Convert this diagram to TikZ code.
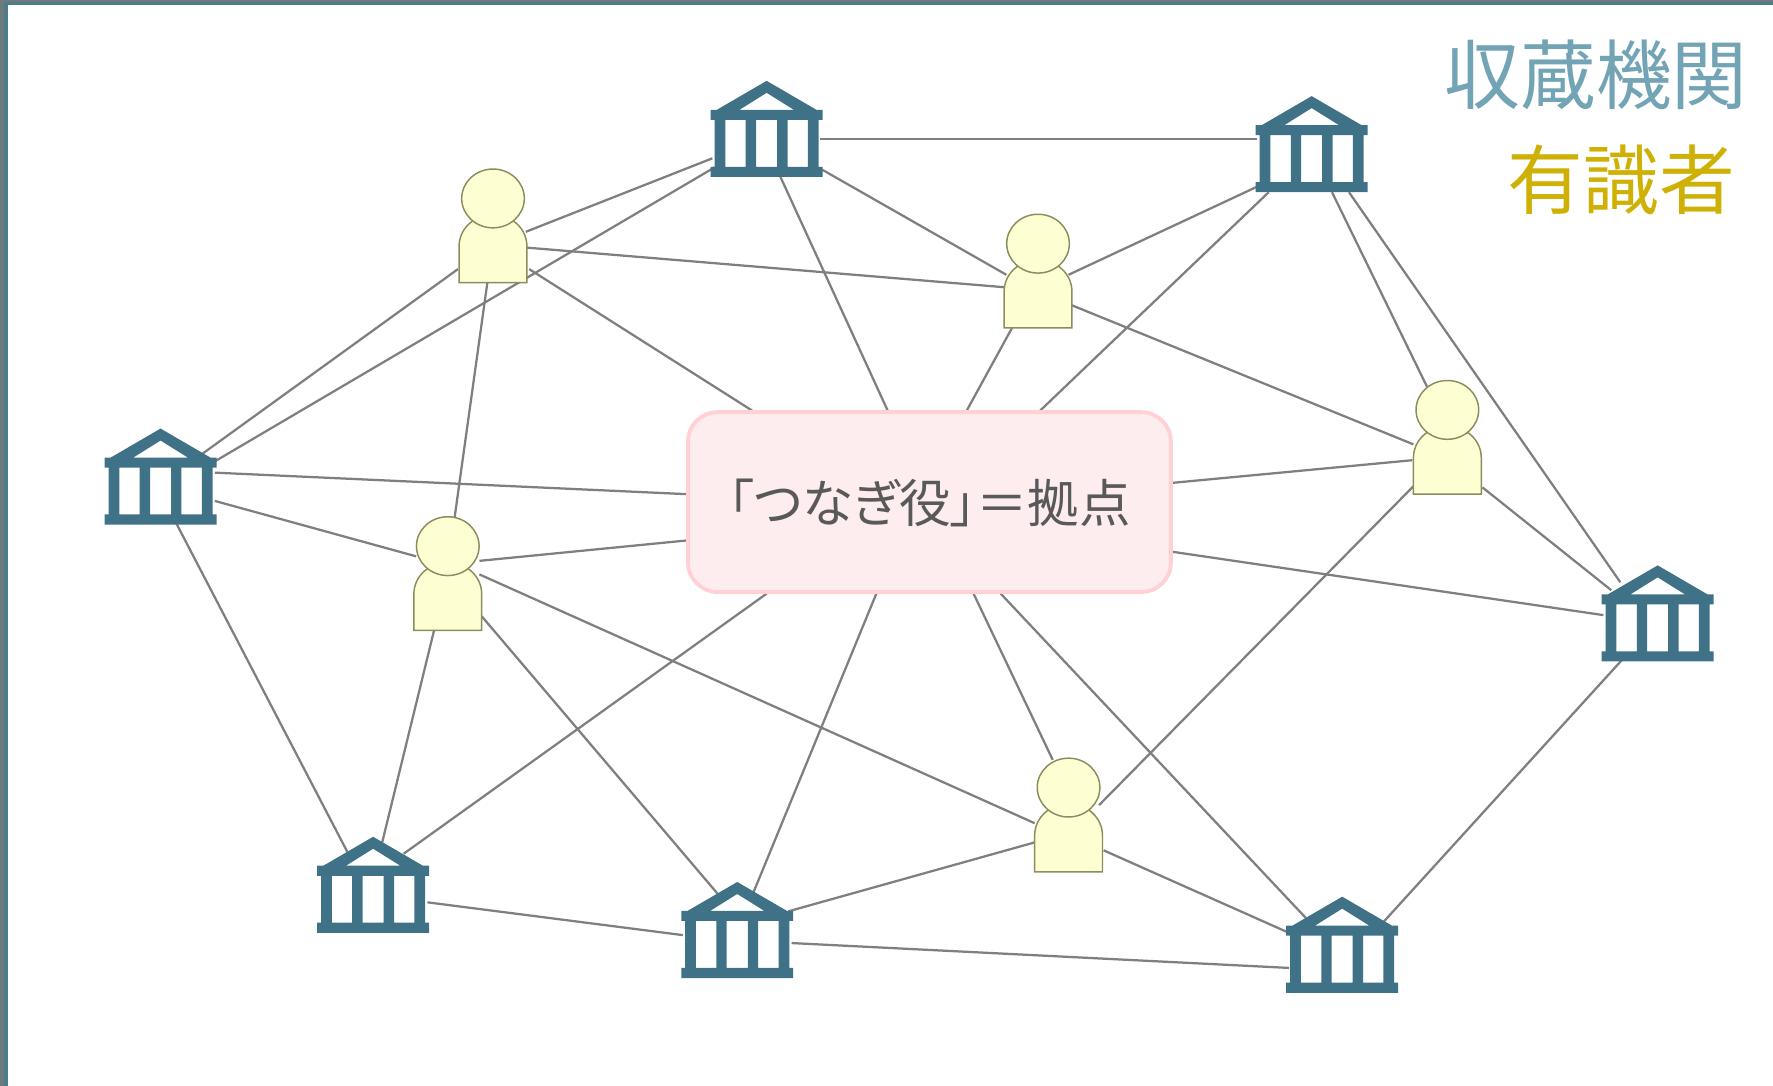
\documentclass[tikz,border=0pt]{standalone}
\usepackage{fontspec}
\setmainfont{Noto Sans CJK JP}
\usetikzlibrary{calc,backgrounds}

\definecolor{instcolor}{HTML}{3F7187}
\definecolor{linkcolor}{HTML}{7F7F7F}
\definecolor{personfill}{HTML}{FDFFD2}
\definecolor{persondraw}{HTML}{8C8C5E}
\definecolor{hubfill}{HTML}{FDEDEE}
\definecolor{hubdraw}{HTML}{FFD1D5}
\definecolor{hubtext}{HTML}{595959}
\definecolor{legendinst}{HTML}{72A4B5}
\definecolor{legendperson}{HTML}{CFB005}
\definecolor{frameouter}{HTML}{6F7A7C}
\definecolor{frameinner}{HTML}{4F7C8A}

\newfontfamily\hubfont[RawFeature=+palt]{Noto Sans CJK JP}

\tikzset{%
  every inst/.style={
    rectangle,
    inner sep=0pt,
    minimum width=100pt,
    minimum height=86pt,
    path picture={
      \fill [instcolor, even odd rule, shift={(path picture bounding box.center)}]
        (0,-42.5) -- (44,-16.9) -- (49.5,-16.9) -- (49.5,-8) -- (46,-8) -- (46,33.5)
        -- (49.5,33.5) -- (49.5,42.5) -- (-49.5,42.5) -- (-49.5,33.5) -- (-46,33.5)
        -- (-46,-8) -- (-49.5,-8) -- (-49.5,-16.9) -- (-44,-16.9) -- cycle
        (0,-31.9) -- (24,-16.9) -- (-24,-16.9) -- cycle
        (-36.5,-8) rectangle (-18.5,33.5)
        (-9.3,-8) rectangle (9.3,33.5)
        (18.5,-8) rectangle (36.5,33.5);
    }
  },
  every person/.style={
    rectangle,
    inner sep=0pt,
    minimum width=63pt,
    minimum height=104pt,
    path picture={
      \begin{scope}[shift={(path picture bounding box.center)}, fill=personfill, draw=persondraw, line width=1.3pt]
        \filldraw (-30,50.5) -- (-30,18.5)
          .. controls (-30,2.5) and (-16.5,-9.5) .. (0,-9.5)
          .. controls (16.5,-9.5) and (30,2.5) .. (30,18.5)
          -- (30,50.5) -- cycle;
        \filldraw (0,-24) ellipse [x radius=27.7pt, y radius=26pt];
      \end{scope}
    }
  },
  every hub/.style={
    rectangle,
    rounded corners=26pt,
    fill=hubfill,
    draw=hubdraw,
    line width=3.4pt,
    inner sep=0pt,
    minimum width=427pt,
    minimum height=159pt,
    text=hubtext,
    font=\hubfont\fontsize{45.5}{50}\selectfont
  },
  link/.style={
    draw=linkcolor,
    line width=2pt
  },
}

\begin{document}
\begin{tikzpicture}[x=1pt, y=-1pt]

\useasboundingbox (0,0) rectangle (1568,960.4);

% Institutions
\foreach \m/\x/\y in {1/678/114, 2/1160/127.5, 3/142/421.5, 4/1466/542.5, 5/330/782.5, 6/652/822.5, 7/1187/835.5}
  \node [every inst] (inst-\m) at (\x,\y) {};

% Persons
\foreach \m/\x/\y in {1/436/199.5, 2/918/239.5, 3/1280/386.5, 4/396/507, 5/945/720.5}
  \node [every person] (person-\m) at (\x,\y) {};

% Hub
\node [every hub] (hub) at (822,444) {\raisebox{-18pt}[0pt][0pt]{「つなぎ役」＝拠点}};

% Legend
\node [text=legendinst, font=\fontsize{67}{72}\selectfont] (legend-inst) at (1411.5,66) {収蔵機関};
\node [text=legendperson, font=\fontsize{67}{72}\selectfont] (legend-person) at (1434,159) {有識者};

% Connections
\begin{scope}[on background layer]
\fill [color=frameinner] (0,0) rectangle (1568,4.4);
\fill [color=frameinner] (0,0) rectangle (7,960.4);
\fill [color=frameouter] (0,0) rectangle (1568,1.8);
\fill [color=frameouter] (0,0) rectangle (3.5,960.4);

\foreach \a/\ax/\ay/\b/\bx/\by in {
  inst-1/47/9/inst-2/-48/-4.5,
  inst-1/-48/26/person-1/29/5.5,
  inst-1/-46/34/inst-3/48/-13.5,
  inst-1/12/42/hub/-37/-81,
  inst-1/49/36/person-2/-28/3.5,
  inst-2/-48/37.5/person-2/27/3.5,
  inst-2/-38/42.5/hub/98/-81,
  inst-2/18/42.5/person-3/-18/-44.5,
  inst-2/33/42.5/inst-4/-33/-27.5,
  person-1/-31/38.5/inst-3/36/-19.5,
  person-1/30/19.5/person-2/-30/14.5,
  person-1/32/38.5/hub/-157/-81,
  person-1/-5/50.5/person-4/6/-49,
  person-2/-23/50.5/hub/33/-81,
  person-2/30/30.5/person-3/-30/6.5,
  person-3/-31/20.5/hub/215/-17,
  person-3/31/44.5/inst-4/-41/-20.5,
  person-3/-30/43.5/person-5/27/-8.5,
  inst-4/-48/1.5/hub/215/44,
  inst-4/-31/40.5/inst-7/35/-18.5,
  inst-3/48/-3.5/hub/-215/-7,
  inst-3/48/21.5/person-4/-28/-15,
  inst-3/14/41.5/inst-5/-22/-27.5,
  person-4/28/-11/hub/-215/34,
  person-4/-12/50/inst-5/8/-37.5,
  person-4/30/38/inst-6/-16/-30.5,
  person-4/28/1/person-5/-30/7.5,
  hub/-144/81/inst-5/27/-27.5,
  hub/-47/81/inst-6/14/-32.5,
  hub/39/81/person-5/-14/-48.5,
  hub/63/81/inst-7/-32/-23.5,
  person-5/-30/24.5/inst-6/45/-16.5,
  person-5/31/31.5/inst-7/-47/-10.5,
  inst-5/48/15.5/inst-6/-48/4.5,
  inst-6/48/11.5/inst-7/-47/20.5}
  \draw [link] ($(\a)+(\ax,\ay)$) -- ($(\b)+(\bx,\by)$);
\end{scope}

\end{tikzpicture}
\end{document}
